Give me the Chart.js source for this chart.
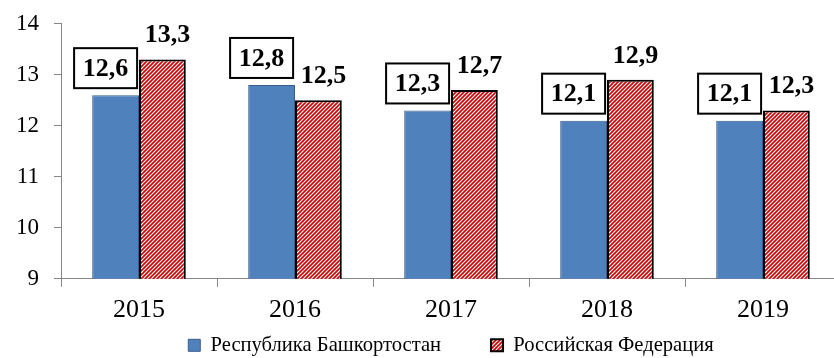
<!DOCTYPE html>
<html>
<head>
<meta charset="utf-8">
<script src="https://cdn.jsdelivr.net/npm/chart.js@4.4.1/dist/chart.umd.min.js"></script>
<style>
  html, body { margin: 0; padding: 0; background: #fff; overflow: hidden; }
  #wrap { width: 834px; height: 358px; overflow: hidden; }
</style>
</head>
<body>
<div id="wrap"><canvas id="grafico" width="841" height="358"></canvas></div>
<script>
const anos = ["2015", "2016", "2017", "2018", "2019"];
const bashkortostan = [12.6, 12.8, 12.3, 12.1, 12.1];
const federacao = [13.3, 12.5, 12.7, 12.9, 12.3];
const eixoY = [9, 10, 11, 12, 13, 14];

const SERIF = "'Liberation Serif'";
const ESPACO_LEGENDA = 50;

// hachura diagonal vermelha para a série da Federação
function criarHachura() {
    const c = document.createElement('canvas');
    c.width = 4; c.height = 4;
    const g = c.getContext('2d');
    g.fillStyle = '#ffffff';
    g.fillRect(0, 0, 4, 4);
    g.strokeStyle = '#cc0000';
    g.lineWidth = 1.7;
    g.beginPath();
    g.moveTo(-1, 5); g.lineTo(5, -1);
    g.moveTo(-1, 1); g.lineTo(1, -1);
    g.moveTo(3, 5); g.lineTo(5, 3);
    g.stroke();
    return g.createPattern(c, 'repeat');
}

function virgula(v) {
    return v.toFixed(1).replace('.', ',');
}

// rótulos: caixa para a primeira série, texto solto para a segunda
const rotulos = {
    id: 'rotulos',
    afterDatasetsDraw(chart) {
        const ctx = chart.ctx;
        ctx.save();
        ctx.font = "bold 26px " + SERIF;
        ctx.textAlign = 'center';
        ctx.textBaseline = 'middle';

        chart.getDatasetMeta(0).data.forEach((bar, i) => {
            const w = 63, h = 40;
            const cx = bar.x - 10;
            const bottom = bar.y - 7;
            ctx.fillStyle = '#fff';
            ctx.fillRect(cx - w / 2, bottom - h, w, h);
            ctx.lineWidth = 2;
            ctx.strokeStyle = '#000';
            ctx.strokeRect(cx - w / 2, bottom - h, w, h);
            ctx.fillStyle = '#000';
            ctx.fillText(virgula(bashkortostan[i]), cx, bottom - h / 2 + 1);
        });

        ctx.fillStyle = '#000';
        chart.getDatasetMeta(1).data.forEach((bar, i) => {
            ctx.fillText(virgula(federacao[i]), bar.x + 5, bar.y - 24);
        });
        ctx.restore();
    }
};

// legenda centrada sobre a área do gráfico, linha única perto da base
const legendaNaArea = {
    id: 'legendaNaArea',
    afterLayout(chart) {
        const lg = chart.legend;
        lg.left = chart.chartArea.left;
        lg.right = chart.chartArea.right;
        lg.top = 335 - ESPACO_LEGENDA;
    }
};

const ctx = document.getElementById('grafico').getContext('2d');
const hachura = criarHachura();

new Chart(ctx, {
    type: 'bar',
    data: {
        labels: anos,
        datasets: [
            {
                label: "Республика Башкортостан",
                data: bashkortostan,
                backgroundColor: '#4f81bd',
                borderColor: '#385d8a',
                borderWidth: 1
            },
            {
                label: "Российская Федерация",
                data: federacao,
                backgroundColor: hachura,
                borderColor: '#000',
                borderWidth: 2
            }
        ]
    },
    options: {
        responsive: false,
        animation: false,
        devicePixelRatio: 1,
        layout: { padding: { top: 0, right: 0, bottom: 0, left: 0 } },
        datasets: {
            bar: { barPercentage: 1, categoryPercentage: 0.6, borderSkipped: 'bottom' }
        },
        scales: {
            x: {
                grid: { display: true, drawOnChartArea: false, tickLength: 8, color: '#868686' },
                border: { color: '#868686', width: 1 },
                ticks: { color: '#000', padding: 8, font: { family: SERIF, size: 26 } }
            },
            y: {
                min: eixoY[0],
                max: eixoY[eixoY.length - 1],
                afterBuildTicks: s => { s.ticks = eixoY.map(v => ({ value: v })); },
                afterFit: s => { s.width = 61; },
                grid: { display: true, drawOnChartArea: false, tickLength: 7, color: '#868686' },
                border: { color: '#868686', width: 1 },
                ticks: { color: '#000', padding: 15, font: { family: SERIF, size: 23, lineHeight: 0.76 } }
            }
        },
        plugins: {
            legend: {
                position: 'bottom',
                maxHeight: 24,
                labels: {
                    color: '#000',
                    boxWidth: 12,
                    boxHeight: 12,
                    padding: ESPACO_LEGENDA,
                    font: { family: SERIF, size: 20.6 }
                }
            },
            tooltip: { enabled: false }
        }
    },
    plugins: [rotulos, legendaNaArea]
});
</script>
</body>
</html>
